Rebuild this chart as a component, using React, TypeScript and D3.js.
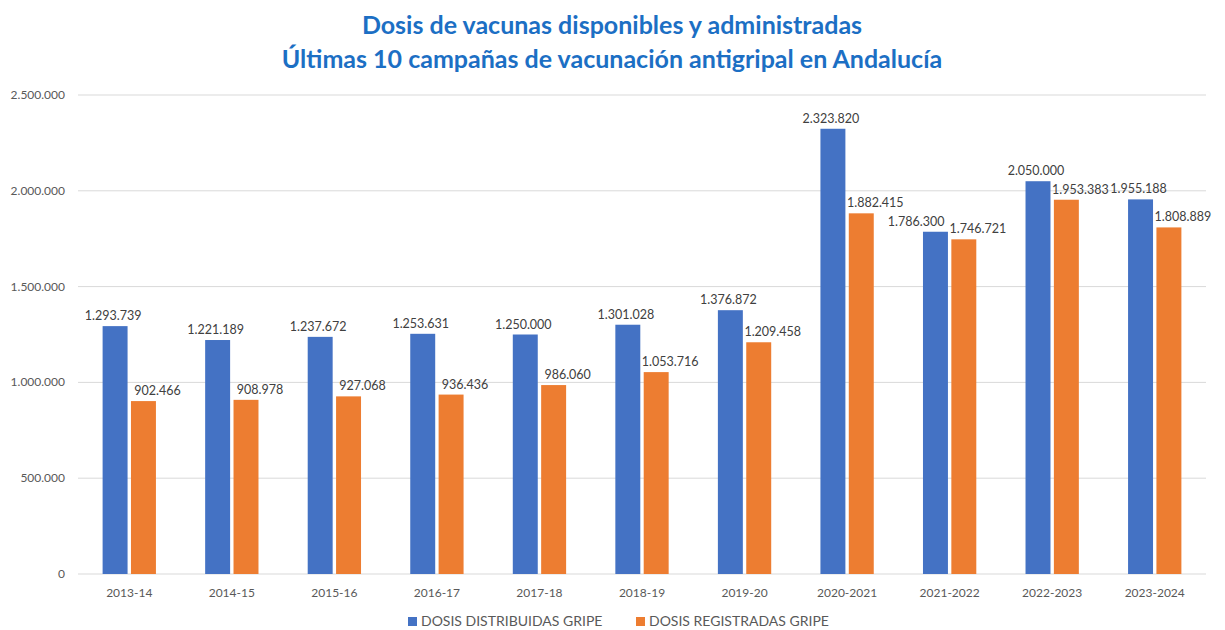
import React, { useEffect, useRef } from 'react'
import * as d3 from 'd3'

const campaigns = ['2013-14', '2014-15', '2015-16', '2016-17', '2017-18', '2018-19', '2019-20', '2020-2021', '2021-2022', '2022-2023', '2023-2024']
const distribuidas = [1293739, 1221189, 1237672, 1253631, 1250000, 1301028, 1376872, 2323820, 1786300, 2050000, 1955188]
const registradas = [902466, 908978, 927068, 936436, 986060, 1053716, 1209458, 1882415, 1746721, 1953383, 1808889]
const seriesNames = ['DOSIS DISTRIBUIDAS GRIPE', 'DOSIS REGISTRADAS GRIPE']
const seriesColors = ['#4472C4', '#ED7D31']
const yTicks = [0, 500000, 1000000, 1500000, 2000000, 2500000]
const titleLines = ['Dosis de vacunas disponibles y administradas', 'Últimas 10 campañas de vacunación antigripal en Andalucía']

function App() {
  const ref = useRef<SVGSVGElement>(null)

  useEffect(() => {
    const w = 1225
    const h = 630
    const left = 78
    const right = 1206
    const top = 95
    const bottom = 574

    const svg = d3.select(ref.current)
    svg.selectAll('*').remove()
    svg.attr('width', w).attr('height', h)

    svg.append('rect').attr('width', w).attr('height', h).attr('fill', '#fff')

    // TITLE
    svg.append('g')
      .selectAll('text')
      .data(titleLines)
      .join('text')
      .text(d => d)
      .attr('x', 612)
      .attr('y', (d, i) => 34 + i * 34)
      .attr('text-anchor', 'middle')
      .attr('font-family', 'Lato, sans-serif')
      .attr('font-weight', 'bold')
      .attr('font-size', 25)
      .attr('fill', '#1C6FC4')

    const y = d3.scaleLinear().domain([0, 2500000]).range([bottom, top])
    const x0 = d3.scaleBand().domain(campaigns).range([left, right])
    const bw = x0.bandwidth()
    const x1 = d3.scaleBand().domain(seriesNames).range([bw * 0.24, bw * 0.76]).paddingInner(0.12)

    const fmt = (v: number) => d3.format(',')(v).replace(/,/g, '.')

    // GRID
    svg.append('g')
      .selectAll('line')
      .data(yTicks)
      .join('line')
      .attr('x1', left)
      .attr('x2', right)
      .attr('y1', d => y(d))
      .attr('y2', d => y(d))
      .attr('stroke', '#D9D9D9')
      .attr('stroke-width', 1)

    svg.append('g')
      .selectAll('text')
      .data(yTicks)
      .join('text')
      .text(d => fmt(d))
      .attr('x', 65)
      .attr('y', d => y(d) + 4)
      .attr('text-anchor', 'end')
      .attr('font-family', 'Lato, sans-serif')
      .attr('font-size', 12)
      .attr('fill', '#595959')

    // BARS
    const groups = svg.append('g')
      .selectAll('g')
      .data(campaigns)
      .join('g')
      .attr('transform', d => `translate(${x0(d)},0)`)

    const allSeries = [distribuidas, registradas]
    const labelShift = [-2, 14]
    allSeries.forEach((vals, s) => {
      groups.append('rect')
        .attr('x', x1(seriesNames[s])!)
        .attr('width', x1.bandwidth())
        .attr('y', (d, i) => y(vals[i]))
        .attr('height', (d, i) => bottom - y(vals[i]))
        .attr('fill', seriesColors[s])

      groups.append('text')
        .attr('class', 'lbl' + s)
        .text((d, i) => fmt(vals[i]))
        .attr('x', x1(seriesNames[s])! + x1.bandwidth() / 2 + labelShift[s])
        .attr('y', (d, i) => y(vals[i]) - 6)
        .attr('text-anchor', 'middle')
        .attr('font-family', 'Lato, sans-serif')
        .attr('font-size', 12.5)
        .attr('fill', '#404040')
    })

    // push blue label left when it runs into the orange one
    groups.each(function () {
      const g = d3.select(this)
      const a = g.select<SVGTextElement>('.lbl0').node()!
      const b = g.select<SVGTextElement>('.lbl1').node()!
      const ba = a.getBBox()
      const bb = b.getBBox()
      const vOverlap = ba.y < bb.y + bb.height && bb.y < ba.y + ba.height
      const gap = bb.x - (ba.x + ba.width)
      if (vOverlap && gap < 5) {
        d3.select(a).attr('x', +d3.select(a).attr('x') - (5 - gap))
      }
    })

    // X LABELS
    svg.append('g')
      .selectAll('text')
      .data(campaigns)
      .join('text')
      .text(d => d)
      .attr('x', d => x0(d)! + bw / 2)
      .attr('y', 597)
      .attr('text-anchor', 'middle')
      .attr('font-family', 'Lato, sans-serif')
      .attr('font-size', 12)
      .attr('fill', '#595959')

    // LEGEND
    const legendX = [408, 636]
    const legend = svg.append('g')
      .selectAll('g')
      .data(seriesNames)
      .join('g')
      .attr('transform', (d, i) => `translate(${legendX[i]},617)`)
    legend.append('rect')
      .attr('width', 9)
      .attr('height', 9)
      .attr('fill', (d, i) => seriesColors[i])
    legend.append('text')
      .text(d => d)
      .attr('x', 13)
      .attr('y', 9)
      .attr('font-family', 'Lato, sans-serif')
      .attr('font-size', 14)
      .attr('fill', '#595959')
  }, [])

  return (
    <div style={{ margin: -8 }}>
      <svg ref={ref}></svg>
    </div>
  )
}

export default App
